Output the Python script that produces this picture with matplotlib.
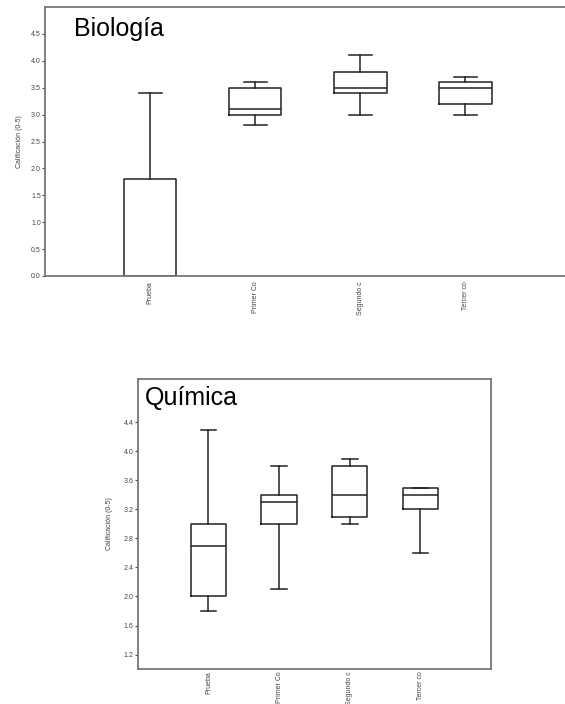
import matplotlib.pyplot as plt

plt.rcParams['font.family'] = ['Liberation Sans', 'DejaVu Sans']

grupos = ['Prueba', 'Primer Co', 'Segundo c', 'Tercer co']

# Biología: min, Q1, mediana, Q3, max
bio_min = [0.0, 2.8, 3.0, 3.0]
bio_q1 = [0.0, 3.0, 3.4, 3.2]
bio_med = [0.0, 3.1, 3.5, 3.5]
bio_q3 = [1.8, 3.5, 3.8, 3.6]
bio_max = [3.4, 3.6, 4.1, 3.7]

# Química
qui_min = [1.8, 2.1, 3.0, 2.6]
qui_q1 = [2.0, 3.0, 3.1, 3.2]
qui_med = [2.7, 3.3, 3.4, 3.4]
qui_q3 = [3.0, 3.4, 3.8, 3.5]
qui_max = [4.3, 3.8, 3.9, 3.5]

bio_ticks = [0.0, 0.5, 1.0, 1.5, 2.0, 2.5, 3.0, 3.5, 4.0, 4.5]
qui_ticks = [1.2, 1.6, 2.0, 2.4, 2.8, 3.2, 3.6, 4.0, 4.4]


def make_stats(lo, q1, med, q3, hi):
    return [dict(whislo=a, q1=b, med=c, q3=d, whishi=e, fliers=[])
            for a, b, c, d, e in zip(lo, q1, med, q3, hi)]


def draw_panel(ax, stats, ticks, ylim, xpad):
    line = dict(color='#222222', linewidth=1.1)
    ax.bxp(stats, positions=[1, 2, 3, 4], widths=0.5, showfliers=False,
           boxprops=line, whiskerprops=line, capprops=line,
           medianprops=line, capwidths=0.22)
    ax.set_xlim(0, 5)
    ax.set_ylim(*ylim)
    ax.set_yticks(ticks)
    ax.set_yticklabels([f'{t:.1f}' for t in ticks])
    ax.set_xticks([1, 2, 3, 4])
    ax.set_xticklabels(grupos, rotation=90, va='top')
    ax.tick_params(axis='y', labelsize=5, length=2, width=0.8,
                   colors='#444444', pad=1)
    ax.tick_params(axis='x', labelsize=5, length=0, colors='#444444',
                   pad=xpad)
    ax.set_ylabel('Calificación (0-5)', fontsize=5, color='#444444')
    for s in ax.spines.values():
        s.set_color('#777777')
        s.set_linewidth(1.3)


fig = plt.figure(figsize=(5.65, 7.04), dpi=100)

ax1 = fig.add_axes([0.0796, 0.608, 0.93, 0.382])
draw_panel(ax1, make_stats(bio_min, bio_q1, bio_med, bio_q3, bio_max),
           bio_ticks, (0, 5.0), 4)
ax1.text(0.055, 0.963, 'Biología', transform=ax1.transAxes, fontsize=18,
         va='top', ha='left')
ax1.yaxis.labelpad = 6

ax2 = fig.add_axes([0.244, 0.0497, 0.625, 0.412])
draw_panel(ax2, make_stats(qui_min, qui_q1, qui_med, qui_q3, qui_max),
           qui_ticks, (1.0, 5.0), 1.5)
ax2.text(0.02, 0.975, 'Química', transform=ax2.transAxes, fontsize=18,
         va='top', ha='left')
ax2.yaxis.labelpad = 8

fig.savefig('out.png', dpi=100)
